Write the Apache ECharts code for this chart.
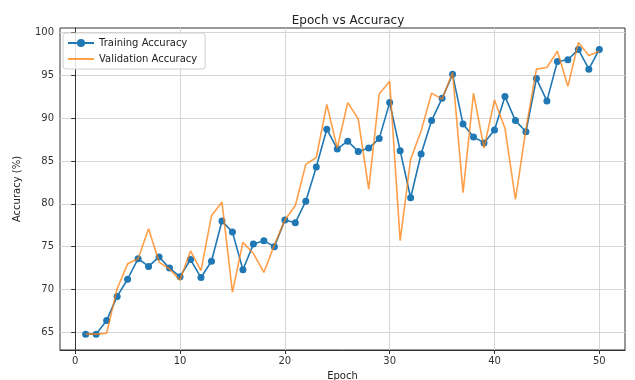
<!DOCTYPE html>
<html>
<head>
<meta charset="utf-8">
<script src="https://cdn.jsdelivr.net/npm/echarts@6/dist/echarts.min.js"></script>
<style>
html,body{margin:0;padding:0;background:#fff;}
#chart{width:635px;height:380px;}
</style>
</head>
<body>
<div id="chart"></div>
<script>
const epochs = [1,2,3,4,5,6,7,8,9,10,11,12,13,14,15,16,17,18,19,20,21,22,23,24,25,26,27,28,29,30,31,32,33,34,35,36,37,38,39,40,41,42,43,44,45,46,47,48,49,50];
const trainAcc = [64.8,64.8,66.4,69.2,71.2,73.6,72.7,73.8,72.5,71.5,73.5,71.4,73.3,78.0,76.7,72.3,75.3,75.7,75.0,78.1,77.8,80.3,84.3,88.7,86.4,87.3,86.1,86.5,87.6,91.8,86.2,80.7,85.8,89.7,92.3,95.1,89.3,87.8,87.1,88.6,92.5,89.7,88.4,94.6,92.0,96.6,96.8,98.0,95.7,98.0];
const valAcc = [64.8,64.8,64.9,70.1,73.0,73.6,77.1,73.2,72.4,71.1,74.5,72.2,78.6,80.2,69.7,75.5,74.2,72.0,75.2,78.1,79.8,84.6,85.4,91.6,86.5,91.8,89.9,81.7,92.8,94.3,75.7,85.2,88.5,92.9,92.2,95.3,81.3,92.9,86.5,92.1,88.8,80.5,88.7,95.7,95.9,97.8,93.7,98.8,97.3,97.8];
const xTicks = [0,10,20,30,40,50];
const yTicks = [65,70,75,80,85,90,95,100];

const FONT = 'DejaVu Sans';
const chart = echarts.init(document.getElementById('chart'), null, {renderer:'canvas'});
const pair = (xs, ys) => xs.map((x,i)=>[x, ys[i]]);

chart.setOption({
  animation:false,
  backgroundColor:'#fff',
  textStyle:{fontFamily:FONT},
  title:{
    text:'Epoch vs Accuracy',
    left:343, top:10, textAlign:'center',
    textStyle:{fontFamily:FONT,fontSize:12,fontWeight:'normal',color:'#222'}
  },
  legend:{
    orient:'vertical', left:63, top:33,
    itemWidth:26, itemHeight:10, itemGap:6,
    padding:[5,8,5,4],
    borderColor:'#d0d0d0', borderWidth:1, borderRadius:3,
    backgroundColor:'rgba(255,255,255,0.85)',
    textStyle:{fontFamily:FONT,fontSize:10,color:'#222'},
    data:[
      {name:'Training Accuracy'},
      {name:'Validation Accuracy', itemStyle:{opacity:0}}
    ]
  },
  grid:{left:60,right:10,top:28,bottom:30,containLabel:false,outerBoundsMode:'none',show:true,borderColor:'#333',borderWidth:1,backgroundColor:'transparent'},
  xAxis:{
    type:'value', min:-1.45, max:52.45,
    name:'Epoch', nameLocation:'middle', nameGap:21,
    nameTextStyle:{fontFamily:FONT,fontSize:10,color:'#222'},
    axisLine:{show:true,lineStyle:{color:'#333'}},
    axisTick:{show:true,customValues:xTicks,length:4,lineStyle:{color:'#333'}},
    axisLabel:{customValues:xTicks,fontFamily:FONT,fontSize:10,color:'#333',margin:6},
    splitLine:{show:true,lineStyle:{color:'#d6d6d6',width:1}}
  },
  yAxis:{
    type:'value', min:62.95, max:100.5,
    name:'Accuracy (%)', nameLocation:'middle', nameGap:38,
    nameTextStyle:{fontFamily:FONT,fontSize:10,color:'#222'},
    axisLine:{show:true,lineStyle:{color:'#333'}},
    axisTick:{show:true,customValues:yTicks,length:4,lineStyle:{color:'#333'}},
    axisLabel:{customValues:yTicks,fontFamily:FONT,fontSize:10,color:'#333',margin:6},
    splitLine:{show:true,lineStyle:{color:'#d6d6d6',width:1}}
  },
  series:[
    {
      name:'Training Accuracy', type:'line',
      data:pair(epochs, trainAcc),
      symbol:'circle', symbolSize:7,
      lineStyle:{color:'#1f77b4',width:1.6},
      itemStyle:{color:'#1f77b4'},
      z:2
    },
    {
      name:'Validation Accuracy', type:'line',
      data:pair(epochs, valAcc),
      symbol:'none',
      lineStyle:{color:'#ff7f0e',width:1.6,opacity:0.75},
      itemStyle:{color:'#f7a350'},
      z:3
    }
  ]
});
</script>
</body>
</html>
